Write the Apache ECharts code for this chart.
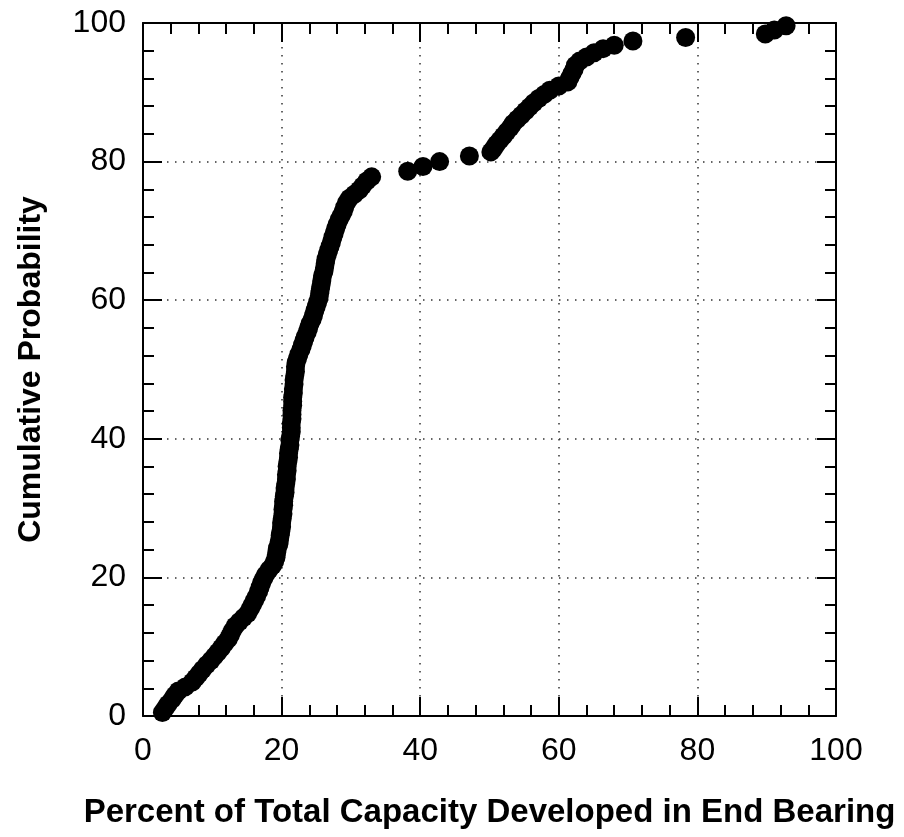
<!DOCTYPE html>
<html>
<head>
<meta charset="utf-8">
<script src="https://cdn.jsdelivr.net/npm/echarts@6/dist/echarts.min.js"></script>
<style>
html,body{margin:0;padding:0;background:#fff;}
#chart{width:904px;height:837px;}
</style>
</head>
<body>
<div id="chart"></div>
<script>
// Percent of total capacity developed in end bearing (x) vs cumulative probability (y)
var endBearingPct = [
2.8,3.2,3.6,4.2,4.6,5.1,6.1,7.1,7.6,8.1,8.6,9.2,9.8,10.3,10.8,11.3,11.8,12.3,12.6,12.9,
13.3,13.9,14.5,15.1,15.5,15.8,16.1,16.4,16.7,16.9,17.1,17.4,17.7,18.2,18.7,19.0,19.2,19.3,19.4,19.6,
19.7,19.8,19.9,20.0,20.0,20.1,20.2,20.2,20.3,20.3,20.4,20.5,20.5,20.6,20.7,20.7,20.8,20.8,20.9,21.0,
21.0,21.1,21.2,21.2,21.3,21.4,21.4,21.4,21.5,21.5,21.5,21.6,21.6,21.6,21.7,21.7,21.8,21.8,21.9,22.0,
22.0,22.1,22.3,22.5,22.8,23.0,23.2,23.4,23.7,23.9,24.1,24.4,24.6,24.8,25.0,25.2,25.4,25.5,25.6,25.7,
25.8,25.9,26.1,26.2,26.3,26.4,26.6,26.8,27.0,27.2,27.4,27.6,27.8,28.0,28.3,28.6,28.9,29.1,29.4,29.8,
30.5,31.2,31.7,32.3,33.0,38.2,40.4,42.8,47.1,50.2,50.6,51.0,51.5,52.0,52.5,53.0,53.4,54.0,54.6,55.2,
55.8,56.4,57.1,57.9,58.7,60.0,61.3,61.6,61.9,62.2,62.4,63.0,64.0,65.1,66.4,68.0,70.7,78.3,89.8,91.1,
92.8
];
var cumulativeProb = [
0.5,1.1,1.7,2.4,3.0,3.6,4.2,4.9,5.5,6.1,6.7,7.4,8.0,8.6,9.2,9.8,10.5,11.1,11.7,12.3,
13.0,13.6,14.2,14.8,15.5,16.1,16.7,17.3,18.0,18.6,19.2,19.8,20.4,21.1,21.7,22.3,22.9,23.6,24.2,24.8,
25.4,26.1,26.7,27.3,27.9,28.5,29.2,29.8,30.4,31.0,31.7,32.3,32.9,33.5,34.2,34.8,35.4,36.0,36.7,37.3,
37.9,38.5,39.1,39.8,40.4,41.0,41.6,42.3,42.9,43.5,44.1,44.8,45.4,46.0,46.6,47.2,47.9,48.5,49.1,49.7,
50.4,51.0,51.6,52.2,52.9,53.5,54.1,54.7,55.4,56.0,56.6,57.2,57.8,58.5,59.1,59.7,60.3,61.0,61.6,62.2,
62.8,63.5,64.1,64.7,65.3,65.9,66.6,67.2,67.8,68.4,69.1,69.7,70.3,70.9,71.6,72.2,72.8,73.4,74.1,74.7,
75.3,75.9,76.5,77.2,77.8,78.6,79.3,80.0,80.8,81.4,81.9,82.5,83.1,83.7,84.3,84.9,85.5,86.1,86.7,87.3,
87.9,88.5,89.1,89.7,90.3,90.9,91.5,92.1,92.7,93.3,93.9,94.5,95.1,95.7,96.3,96.8,97.4,97.9,98.4,99.0,
99.6
];
var xTickLabels = ['0','20','40','60','80','100'];
var yTickLabels = ['0','20','40','60','80','100'];
var xTitle = 'Percent of Total Capacity Developed in End Bearing';
var yTitle = 'Cumulative Probability';

var points = endBearingPct.map(function (x, i) { return [x, cumulativeProb[i]]; });

var FONT = '"Liberation Sans", Arial, Helvetica, sans-serif';
var black = '#000';

function baseAxis(extra) {
  var a = {
    type: 'value', min: 0, max: 100, interval: 20,
    axisLine: { show: true, onZero: false, lineStyle: { color: black, width: 2 } },
    axisTick: { show: true, inside: true, length: 19, lineStyle: { color: black, width: 2 } },
    minorTick: { show: true, splitNumber: 5, length: 11, lineStyle: { color: black, width: 2 } },
    splitLine: { show: false },
    axisLabel: { show: false }
  };
  for (var k in extra) a[k] = extra[k];
  return a;
}

var chart = echarts.init(document.getElementById('chart'), null, { renderer: 'canvas' });
chart.setOption({
  animation: false,
  backgroundColor: '#fff',
  grid: { left: 143, right: 68, top: 23, bottom: 121, containLabel: false },
  xAxis: [
    baseAxis({
      position: 'bottom',
      name: xTitle, nameLocation: 'middle', nameGap: 80,
      nameTextStyle: { fontFamily: FONT, fontSize: 33, fontWeight: 'bold', color: black },
      axisLabel: { show: true, margin: 19, fontFamily: FONT, fontSize: 32, color: black,
        formatter: function (v) { return xTickLabels[Math.round(v / 20)]; } },
      splitLine: { show: true, lineStyle: { color: '#333', width: 1.5, type: [1.5, 6.5] } }
    }),
    baseAxis({ position: 'top' })
  ],
  yAxis: [
    baseAxis({
      position: 'left',
      name: yTitle, nameLocation: 'middle', nameGap: 96, nameRotate: 90,
      nameTextStyle: { fontFamily: FONT, fontSize: 32, fontWeight: 'bold', color: black },
      axisLabel: { show: true, margin: 17, fontFamily: FONT, fontSize: 32, color: black,
        formatter: function (v) { return yTickLabels[Math.round(v / 20)]; } },
      splitLine: { show: true, lineStyle: { color: '#333', width: 1.5, type: [1.5, 6.5] } }
    }),
    baseAxis({ position: 'right' })
  ],
  series: [{
    type: 'scatter',
    xAxisIndex: 0, yAxisIndex: 0,
    data: points,
    symbol: 'circle',
    symbolSize: 19,
    itemStyle: { color: black, opacity: 1 },
    silent: true
  }]
});
</script>
</body>
</html>
